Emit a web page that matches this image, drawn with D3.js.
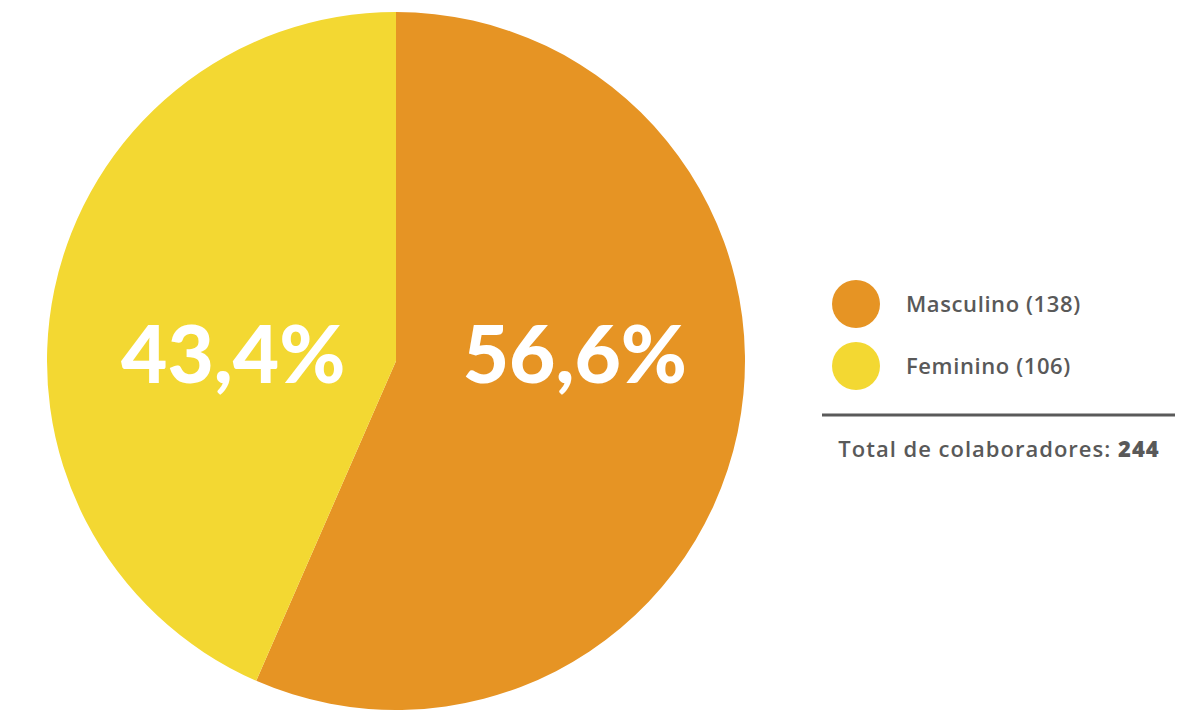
<!DOCTYPE html>
<html>
<head>
<meta charset="utf-8">
<script src="https://cdn.jsdelivr.net/npm/d3@7"></script>
<style>
  html, body { margin: 0; padding: 0; background: #ffffff; }
  svg { display: block; }
</style>
</head>
<body>
<svg id="chart" width="1189" height="710"></svg>
<script>
// Collaborators by gender
const categories = ["Masculino", "Feminino"];
const counts = [138, 106];
const percentLabels = ["56,6%", "43,4%"];
const colors = ["#E69424", "#F3D832"];
const totalLabel = "Total de colaboradores: ";

const total = d3.sum(counts);

const svg = d3.select("#chart");
const cx = 396, cy = 361, radius = 349;
const FONT = "'Open Sans', 'Noto Sans', sans-serif";

const pie = d3.pie().sort(null).value(d => d.count);
const data = categories.map((c, i) => ({ name: c, count: counts[i], label: percentLabels[i], color: colors[i] }));
const arcs = pie(data);

const arc = d3.arc().innerRadius(0).outerRadius(radius);
const labelArc = d3.arc().innerRadius(radius * 0.5).outerRadius(radius * 0.5);

const g = svg.append("g").attr("transform", `translate(${cx},${cy})`);

g.selectAll("path.slice")
  .data(arcs)
  .join("path")
  .attr("class", "slice")
  .attr("d", arc)
  .attr("fill", d => d.data.color);

// Percentage labels, kept on one horizontal line through the centre
g.selectAll("text.pct")
  .data(arcs)
  .join("text")
  .attr("class", "pct")
  .attr("x", d => labelArc.centroid(d)[0] + 8)
  .attr("y", 22)
  .attr("text-anchor", "middle")
  .attr("fill", "#ffffff")
  .attr("font-family", "Lato, 'Noto Sans', sans-serif")
  .attr("font-weight", 900)
  .attr("font-size", 80)
  .text(d => d.data.label);

// Legend
const legend = svg.append("g");
const legendY = d3.scalePoint().domain(categories).range([304, 366]);

legend.selectAll("circle")
  .data(data)
  .join("circle")
  .attr("cx", 856)
  .attr("cy", d => legendY(d.name))
  .attr("r", 24)
  .attr("fill", d => d.color);

legend.selectAll("text")
  .data(data)
  .join("text")
  .attr("x", 906)
  .attr("y", d => legendY(d.name) + 8)
  .attr("fill", "#595959")
  .attr("font-family", FONT)
  .attr("font-weight", 600)
  .attr("font-size", 22)
  .attr("letter-spacing", 0.6)
  .text(d => `${d.name} (${d.count})`);

svg.append("line")
  .attr("x1", 822).attr("x2", 1175)
  .attr("y1", 415).attr("y2", 415)
  .attr("stroke", "#5a5a5a")
  .attr("stroke-width", 3);

const tot = svg.append("text")
  .attr("x", 999)
  .attr("y", 457)
  .attr("text-anchor", "middle")
  .attr("fill", "#595959")
  .attr("font-family", FONT)
  .attr("font-size", 22)
  .attr("letter-spacing", 1);
tot.append("tspan").attr("font-weight", 600).text(totalLabel);
tot.append("tspan").attr("font-weight", 800).text(total);
</script>
</body>
</html>
